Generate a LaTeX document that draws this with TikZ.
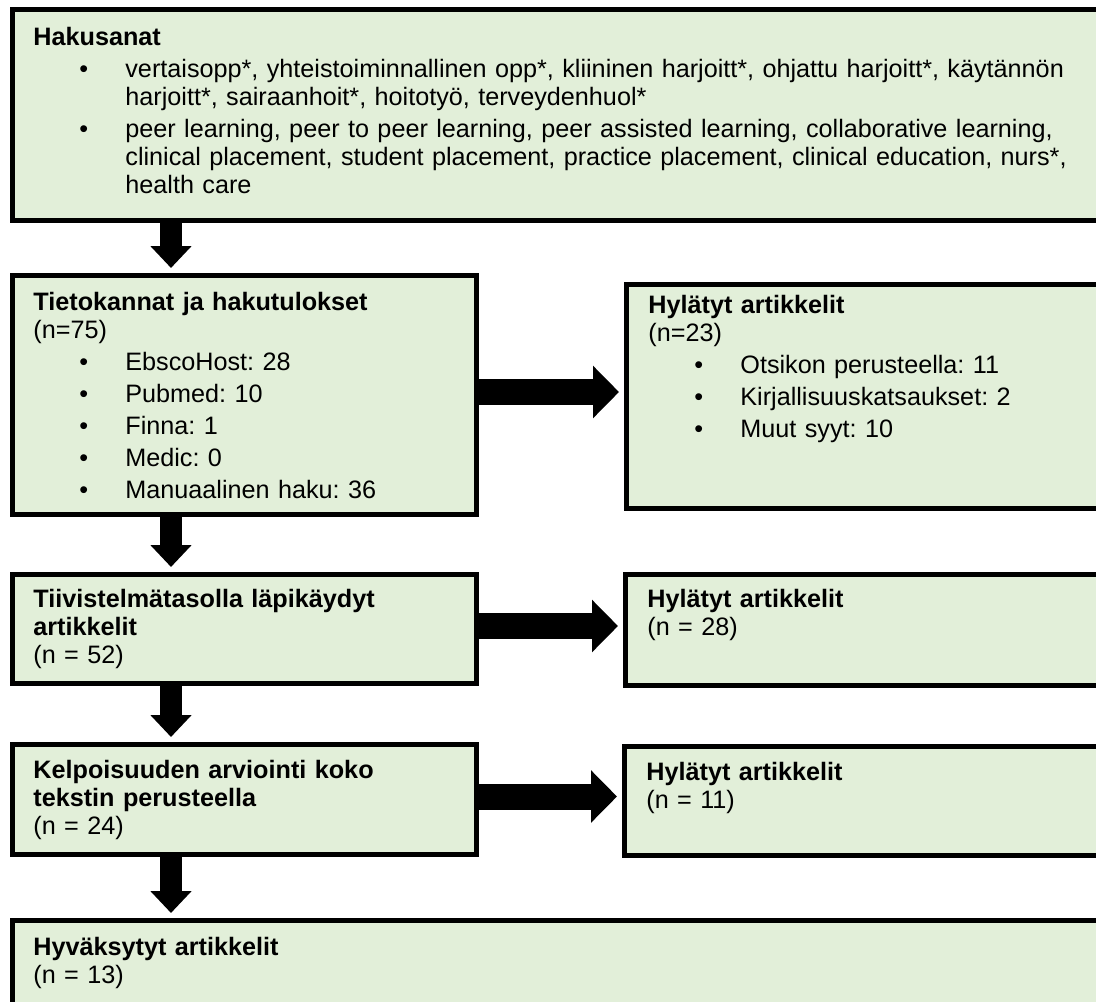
\documentclass[tikz,border=0pt]{standalone}
\usepackage{fontspec}
\setmainfont{Liberation Sans}
\usetikzlibrary{arrows.meta}
\definecolor{vihrea}{HTML}{E2EFD9}
\newcommand{\punkt}{\par\vspace{2pt}\hangindent=46pt\hangafter=1\noindent\makebox[46pt][l]{\hspace{23pt}\textbullet}}
\begin{document}
\begin{tikzpicture}[x=0.5pt, y=-0.5pt,
    laatikko/.style={draw, line width=2.5pt, fill=vihrea, anchor=north west, inner sep=0pt},
    teksti/.style={anchor=base west, inner sep=0pt, text width=520pt, align=left,
      font=\fontsize{12.6}{14}\selectfont,
      execute at begin node={\setlength{\parindent}{0pt}\frenchspacing}},
    vpil/.style={line width=11pt, -{Triangle[length=11pt, width=20pt]}, shorten >=2.5pt},
    hpil/.style={line width=13pt, -{Triangle[length=13pt, width=25.5pt]}, shorten >=2.5pt}]
    \useasboundingbox (0,0) rectangle (1096,1001);
    \clip (0,0) rectangle (1096,1001);
    % left column
    \node[laatikko, minimum width=560pt, minimum height=105.5pt] (hakusanat) at (10,7) {};
    \node[laatikko, minimum width=232pt, minimum height=119.5pt] (tietokannat) at (10,273) {};
    \node[laatikko, minimum width=232pt, minimum height=54.5pt] (tiivistelma) at (10,572) {};
    \node[laatikko, minimum width=232pt, minimum height=55pt] (kelpoisuus) at (10,742) {};
    \node[laatikko, minimum width=560pt, minimum height=60pt] (hyvaksytyt) at (10,918) {};
    % right column
    \node[laatikko, minimum width=250pt, minimum height=112pt] (hylatyt1) at (624,282) {};
    \node[laatikko, minimum width=250pt, minimum height=55.5pt] (hylatyt2) at (623,572) {};
    \node[laatikko, minimum width=250pt, minimum height=54.5pt] (hylatyt3) at (622,744) {};
    % texts
    \node[teksti] (t1) at (33,45) {\textbf{Hakusanat}
      \punkt vertaisopp*, yhteistoiminnallinen opp*, kliininen harjoitt*, ohjattu harjoitt*, käytännön\newline
        harjoitt*, sairaanhoit*, hoitotyö, terveydenhuol*
      \punkt peer learning, peer to peer learning, peer assisted learning, collaborative learning,\newline
        clinical placement, student placement, practice placement, clinical education, nurs*,\newline
        health care\par};
    \node[teksti] (t2) at (33,310) {\textbf{Tietokannat ja hakutulokset}\\(n=75)
      \punkt EbscoHost: 28
      \punkt Pubmed: 10
      \punkt Finna: 1
      \punkt Medic: 0
      \punkt Manuaalinen haku: 36\par};
    \node[teksti] (t3) at (33,607) {\textbf{Tiivistelmätasolla läpikäydyt}\\\textbf{artikkelit}\\(n = 52)};
    \node[teksti] (t4) at (33,778) {\textbf{Kelpoisuuden arviointi koko}\\\textbf{tekstin perusteella}\\(n = 24)};
    \node[teksti] (t5) at (33,955) {\textbf{Hyväksytyt artikkelit}\\(n = 13)};
    \node[teksti] (t6) at (648,313) {\textbf{Hylätyt artikkelit}\\(n=23)
      \punkt Otsikon perusteella: 11
      \punkt Kirjallisuuskatsaukset: 2
      \punkt Muut syyt: 10\par};
    \node[teksti] (t7) at (647,607) {\textbf{Hylätyt artikkelit}\\(n = 28)};
    \node[teksti] (t8) at (646,780) {\textbf{Hylätyt artikkelit}\\(n = 11)};
    % arrows
    \coordinate (ax) at (171,0);
    \foreach \a/\b in {hakusanat/tietokannat, tietokannat/tiivistelma, tiivistelma/kelpoisuus, kelpoisuus/hyvaksytyt}
      \draw[vpil] (\a.south -| ax) -- (\b.north -| ax);
    \foreach \a/\b in {tietokannat/hylatyt1, tiivistelma/hylatyt2, kelpoisuus/hylatyt3}
      \draw[hpil] ([yshift=1.5pt]\a.east) -- ([yshift=1.5pt]\a.east -| \b.west);
\end{tikzpicture}
\end{document}
